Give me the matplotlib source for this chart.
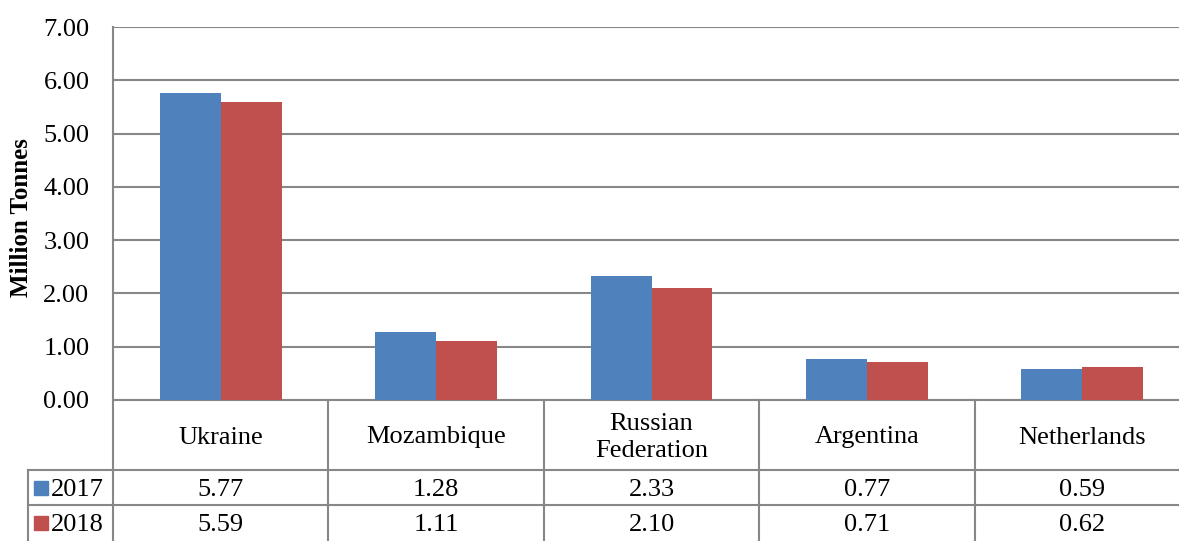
import numpy as np
from matplotlib import pyplot as plt

countries = ['Ukraine', 'Mozambique', 'Russian\nFederation', 'Argentina', 'Netherlands']
years = ['2017', '2018']
vals_2017 = [5.77, 1.28, 2.33, 0.77, 0.59]
vals_2018 = [5.59, 1.11, 2.10, 0.71, 0.62]
colors = ['#4F81BD', '#C0504D']
grid_col = '#878787'

plt.rcParams['font.family'] = ['Liberation Serif', 'DejaVu Serif']

W, H = 1179, 541
fig = plt.figure(figsize=(W / 100, H / 100), dpi=100)
# plot area in pixels: x 113..1190 (cut off at right edge), y 27..400
ax = fig.add_axes([113 / W, (H - 400) / H, (1190 - 113) / W, (400 - 27) / H])

x = np.arange(len(countries))
bw = 0.283
ax.bar(x - bw / 2, vals_2017, bw, color=colors[0], zorder=3)
ax.bar(x + bw / 2, vals_2018, bw, color=colors[1], zorder=3)

fs = 19
ax.set_xlim(-0.5, len(countries) - 0.5)
ax.set_ylim(0, 7)
ax.set_yticks(np.arange(0, 8, 1))
ax.set_yticklabels([f'{v:.2f}' for v in np.arange(0, 8, 1)], fontsize=fs)
ax.tick_params(axis='y', length=0, pad=17)
ax.set_xticks([])
ax.grid(axis='y', color=grid_col, lw=1.5, zorder=0)
for s in ['top', 'right', 'bottom']:
    ax.spines[s].set_visible(False)
ax.spines['left'].set_color(grid_col)
ax.spines['left'].set_linewidth(1.5)

# data table below the plot (x in data units, y in axes fraction)
tr = ax.get_xaxis_transform()
unit = (400 - 27)
y_axis = 0.0
y_head = -(470 - 400) / unit
y_row1 = -(505 - 400) / unit
y_bot = -(560 - 400) / unit
px = (1190 - 113) / len(countries)
x_left = -0.5 - (113 - 28) / px

line_kw = dict(color=grid_col, lw=1.5, clip_on=False, transform=tr)
ax.plot([-0.5, len(countries) - 0.5], [y_axis, y_axis], **line_kw)
for yy in [y_head, y_row1]:
    ax.plot([x_left, len(countries) - 0.5], [yy, yy], **line_kw)
for b in np.arange(len(countries)) - 0.5:
    ax.plot([b, b], [y_axis, y_bot], **line_kw)
ax.plot([x_left, x_left], [y_head, y_bot], **line_kw)

nudge = 2.5 / unit
row_y = [(y_head + y_row1) / 2 - nudge, y_row1 - (y_head - y_row1) / 2 - nudge]
for i, c in enumerate(countries):
    ax.text(i, (y_axis + y_head) / 2 - nudge, c, ha='center', va='center', fontsize=fs,
            transform=tr, linespacing=1.35)
    ax.text(i, row_y[0], f'{vals_2017[i]:.2f}', ha='center', va='center',
            fontsize=fs, transform=tr)
    ax.text(i, row_y[1], f'{vals_2018[i]:.2f}', ha='center', va='center',
            fontsize=fs, transform=tr)

key_x = x_left + (41 - 28) / px
txt_x = x_left + (51 - 28) / px
for yr, col, yy in zip(years, colors, row_y):
    ax.plot([key_x], [yy + nudge], marker='s', ms=10, color=col, clip_on=False, transform=tr)
    ax.text(txt_x, yy, yr, ha='left', va='center', fontsize=fs, transform=tr)

fig.text(22 / W, 1 - 218 / H, 'Million Tonnes', rotation=90, ha='center', va='center',
         fontsize=18, fontweight='bold')

fig.savefig('out.png', dpi=100)
